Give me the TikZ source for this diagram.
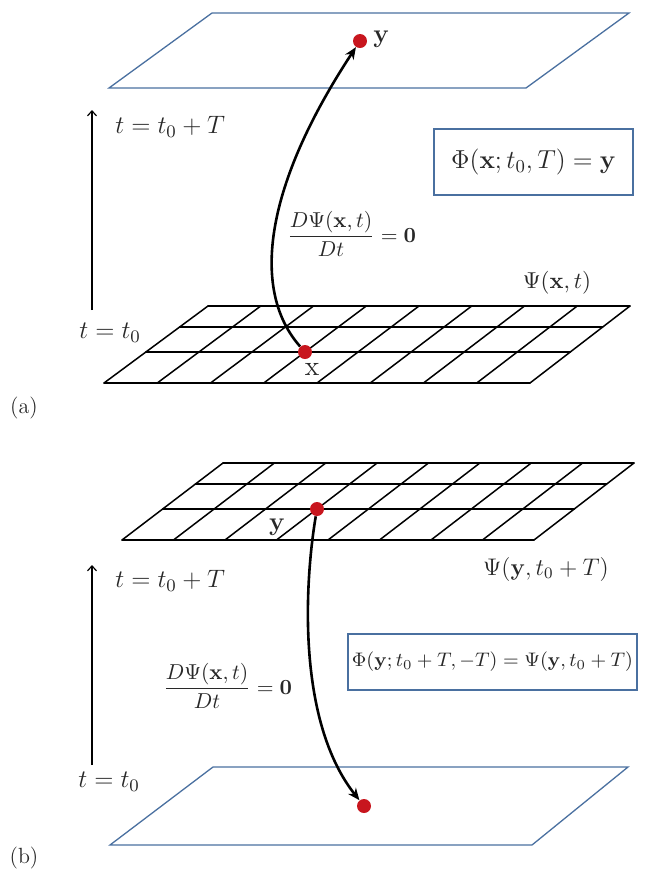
\RequirePackage{fix-cm}
\documentclass[tikz,border=0pt]{standalone}
\usetikzlibrary{arrows.meta,calc}
\definecolor{planeblue}{RGB}{74,112,160}
\definecolor{dotred}{RGB}{200,22,30}
\definecolor{txt}{RGB}{40,40,40}
\begin{document}
\begin{tikzpicture}[x=0.5pt,y=-0.5pt,
  plane/.style={draw=planeblue,line width=0.65pt,line join=miter},
  gridline/.style={line width=0.75pt,line cap=round},
  reddot/.style={circle,fill=dotred,inner sep=0pt,minimum size=7pt},
  traj/.style={line width=1.3pt,-{Stealth[length=6pt,width=5pt]}},
  timeaxis/.style={line width=0.6pt,-{Straight Barb[length=2.5pt,width=4.5pt]}},
  lbl/.style={text=txt,inner sep=0pt,font=\fontsize{12.6}{15}\selectfont},
  eqbox/.style={draw=planeblue,line width=0.8pt,text=txt,inner sep=0pt}]
\useasboundingbox (0,0) rectangle (646,875);

% ---------------- panel (a) ----------------
\draw[plane] (109,88) -- (526,88) -- (629,13) -- (212,13) -- cycle;
\coordinate (aBL) at (104,383);
\coordinate (aBR) at (530,383);
\coordinate (aTR) at (630,306);
\coordinate (aTL) at (208,306);
\foreach \f in {0,0.4026,0.7273,1}
  \draw[gridline] ($(aBL)!\f!(aTL)$) -- ($(aBR)!\f!(aTR)$);
\foreach \i [evaluate=\i as \f using \i/8] in {0,...,8}
  \draw[gridline] ($(aBL)!\f!(aBR)$) -- ($(aTL)!\f!(aTR)$);

\node[reddot] (xa) at (305,352) {};
\node[reddot] (ya) at (360,41) {};
\draw[traj] (xa) .. controls (252,292) and (262,190) .. (ya);
\node[lbl,anchor=west,font=\fontsize{13}{15}\selectfont] (ylab) at (373,39) {$\mathbf{y}$};
\node[lbl,font=\fontsize{14}{16}\selectfont] (xlab) at (312,369) {$\mathrm{x}$};

\coordinate (ta0) at (92,310);
\coordinate (ta1) at (92,110);
\draw[timeaxis] (ta0) -- (ta1);
\node[lbl,anchor=west] (tTa) at (115,127) {$t = t_0 + T$};
\node[lbl,anchor=west] (t0a) at (79,333) {$t = t_0$};

\node[lbl,anchor=west,font=\fontsize{10.8}{13}\selectfont] (fra) at (287,234)
  {$\displaystyle\frac{D\Psi(\mathbf{x},t)}{Dt} = \mathbf{0}$};
\node[eqbox,minimum width=99.5pt,minimum height=33pt,font=\fontsize{13}{15}\selectfont] (boxa) at (533.5,162)
  {$\Phi(\mathbf{x};t_0,T) = \mathbf{y}$};
\node[lbl,font=\fontsize{11.5}{14}\selectfont] (psia) at (557,283) {$\Psi(\mathbf{x},t)$};
\node[lbl,font=\fontsize{11}{13}\selectfont] (laba) at (24,408) {(a)};

% ---------------- panel (b) ----------------
\coordinate (bBL) at (122,540);
\coordinate (bBR) at (534,540);
\coordinate (bTR) at (634,463);
\coordinate (bTL) at (223,463);
\foreach \f in {0,0.4026,0.7273,1}
  \draw[gridline] ($(bBL)!\f!(bTL)$) -- ($(bBR)!\f!(bTR)$);
\foreach \i [evaluate=\i as \f using \i/8] in {0,...,8}
  \draw[gridline] ($(bBL)!\f!(bBR)$) -- ($(bTL)!\f!(bTR)$);
\draw[plane] (110,845) -- (532,845) -- (628,767) -- (213,767) -- cycle;

\node[reddot] (yb) at (317,509) {};
\node[reddot] (pb) at (364,806) {};
\draw[traj] (yb) .. controls (305,580) and (296,720) .. (pb);
\node[lbl,font=\fontsize{13}{15}\selectfont] (yblab) at (277,527) {$\mathbf{y}$};

\coordinate (tb0) at (92,765);
\coordinate (tb1) at (92,565);
\draw[timeaxis] (tb0) -- (tb1);
\node[lbl,anchor=west] (tTb) at (115,581) {$t = t_0 + T$};
\node[lbl,anchor=west] (t0b) at (78,782) {$t = t_0$};

\node[lbl,anchor=west,font=\fontsize{10.8}{13}\selectfont] (frb) at (163,686)
  {$\displaystyle\frac{D\Psi(\mathbf{x},t)}{Dt} = \mathbf{0}$};
\node[eqbox,minimum width=144.5pt,minimum height=28pt,font=\fontsize{9.8}{12}\selectfont] (boxb) at (492.5,662)
  {$\Phi(\mathbf{y};t_0+T,-T) = \Psi(\mathbf{y},t_0+T)$};
\node[lbl,font=\fontsize{12}{14}\selectfont] (psib) at (546,569) {$\Psi(\mathbf{y},t_0+T)$};
\node[lbl,font=\fontsize{11}{13}\selectfont] (labb) at (24,858) {(b)};
\end{tikzpicture}
\end{document}
